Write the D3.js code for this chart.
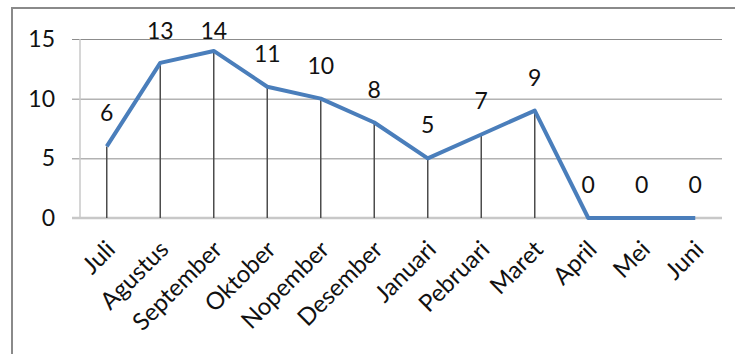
<!DOCTYPE html>
<html lang="id">
<head>
<meta charset="UTF-8">
<title>Grafik bulanan</title>
<script src="https://d3js.org/d3.v7.min.js"></script>
<style>
  body { margin: 0; background: #fff; }
  text { font-family: Lato, "Noto Sans", sans-serif; fill: #111; }
</style>
</head>
<body>
<script>
// data
var bulan = ["Juli", "Agustus", "September", "Oktober", "Nopember", "Desember",
             "Januari", "Pebruari", "Maret", "April", "Mei", "Juni"];
var nilai = [6, 13, 14, 11, 10, 8, 5, 7, 9, 0, 0, 0];
var tickY = [0, 5, 10, 15];

var lebar = 735, tinggi = 354;
var kiri = 80, kanan = 722, atas = 39, bawah = 218;
var ukuranHuruf = 23;

var svg = d3.select("body").append("svg")
    .attr("width", lebar)
    .attr("height", tinggi);

// bingkai luar
svg.append("rect")
    .attr("x", 12).attr("y", 8)
    .attr("width", lebar).attr("height", tinggi)
    .attr("fill", "#fff")
    .attr("stroke", "#8a8a8a")
    .attr("stroke-width", 2);

var x = d3.scaleBand().domain(bulan).range([kiri, kanan]).padding(0);
var y = d3.scaleLinear().domain([0, 15]).range([bawah, atas]);
var cx = function(d) { return x(d) + x.bandwidth() / 2; };

// garis grid + label sumbu Y
var gy = svg.append("g")
    .attr("transform", "translate(" + kanan + ",0)")
    .call(d3.axisLeft(y).tickValues(tickY).tickSize(kanan - 72).tickPadding(17));
gy.select(".domain").remove();
gy.selectAll(".tick line").attr("stroke", "#8c8c8c").attr("stroke-width", 1);
gy.selectAll(".tick text").attr("font-size", ukuranHuruf).attr("fill", "#111");

// sumbu Y (garis tipis)
svg.append("line")
    .attr("x1", kiri).attr("x2", kiri)
    .attr("y1", atas).attr("y2", bawah)
    .attr("stroke", "#c8c8c8").attr("stroke-width", 1.5);

// sumbu X
var gx = svg.append("g")
    .attr("transform", "translate(0," + bawah + ")")
    .call(d3.axisBottom(x).tickSize(0).tickPadding(0));
gx.select(".domain").remove();
svg.append("line")
    .attr("x1", 72).attr("x2", kanan)
    .attr("y1", bawah).attr("y2", bawah)
    .attr("stroke", "#c8c8c8").attr("stroke-width", 2.5);
gx.selectAll(".tick text")
    .attr("font-size", 24)
    .attr("fill", "#111")
    .attr("text-anchor", "end")
    .attr("transform", "translate(4,27) rotate(-45)")
    .attr("dy", "0.35em");

var data = bulan.map(function(b, i) { return { b: b, v: nilai[i] }; });

// garis jatuh
svg.append("g").selectAll("line")
    .data(data.filter(function(d) { return d.v > 0; }))
    .join("line")
    .attr("x1", function(d) { return cx(d.b); })
    .attr("x2", function(d) { return cx(d.b); })
    .attr("y1", function(d) { return y(d.v); })
    .attr("y2", bawah)
    .attr("stroke", "#4d4d4d").attr("stroke-width", 1.5);

// garis data
svg.append("path")
    .datum(data)
    .attr("fill", "none")
    .attr("stroke", "#4a7ebb")
    .attr("stroke-width", 4)
    .attr("stroke-linejoin", "round")
    .attr("d", d3.line().x(function(d) { return cx(d.b); }).y(function(d) { return y(d.v); }));

// label nilai (tetap di dalam area grafik)
svg.append("g").selectAll("text")
    .data(data)
    .join("text")
    .attr("x", function(d) { return cx(d.b); })
    .attr("y", function(d) { return Math.max(y(d.v) - 25, atas); })
    .attr("text-anchor", "middle")
    .attr("font-size", ukuranHuruf)
    .text(function(d) { return d.v; });
</script>
</body>
</html>
